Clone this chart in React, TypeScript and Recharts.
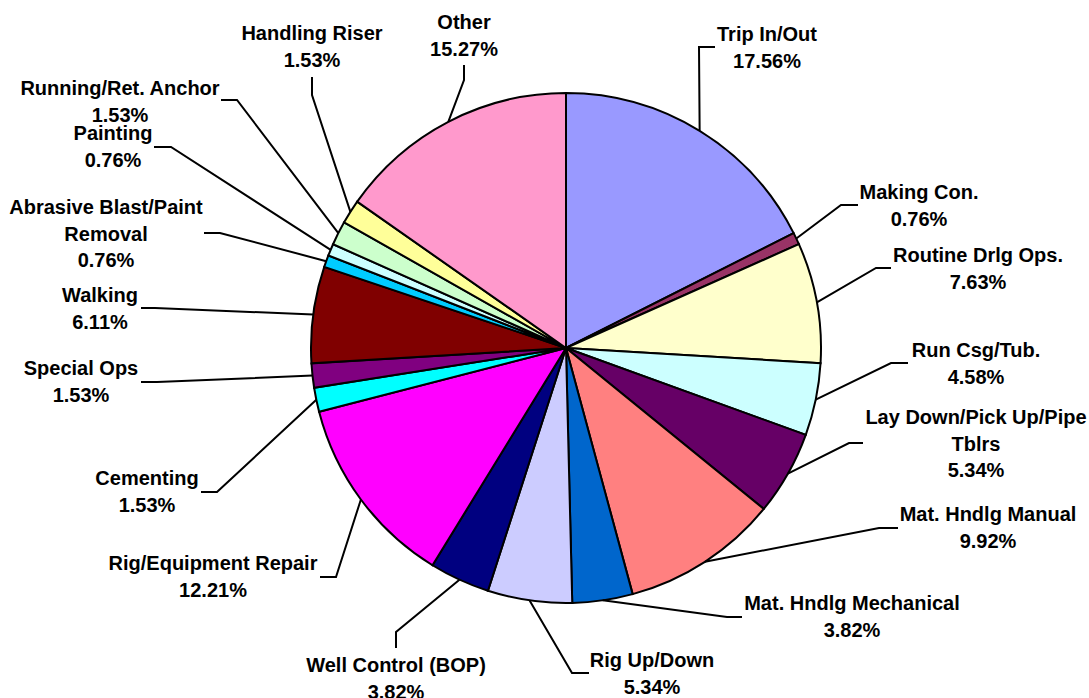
import { PieChart, Pie, Cell } from "recharts";

const CATEGORIES = [
  "Trip In/Out",
  "Making Con.",
  "Routine Drlg Ops.",
  "Run Csg/Tub.",
  "Lay Down/Pick Up/Pipe Tblrs",
  "Mat. Hndlg Manual",
  "Mat. Hndlg Mechanical",
  "Rig Up/Down",
  "Well Control (BOP)",
  "Rig/Equipment Repair",
  "Cementing",
  "Special Ops",
  "Walking",
  "Abrasive Blast/Paint Removal",
  "Painting",
  "Running/Ret. Anchor",
  "Handling Riser",
  "Other",
];

const PERCENTS = [
  17.56, 0.76, 7.63, 4.58, 5.34, 9.92, 3.82, 5.34, 3.82, 12.21, 1.53, 1.53, 6.11, 0.76, 0.76, 1.53, 1.53, 15.27,
];

const COLORS = [
  "#9999FF", "#993366", "#FFFFCC", "#CCFFFF", "#660066", "#FF8080", "#0066CC", "#CCCCFF", "#000080",
  "#FF00FF", "#00FFFF", "#800080", "#800000", "#00CCFF", "#CCFFFF", "#CCFFCC", "#FFFF99", "#FF99CC",
];

// labels that wrap onto two lines
const WRAPS: Record<string, string[]> = {
  "Lay Down/Pick Up/Pipe Tblrs": ["Lay Down/Pick Up/Pipe", "Tblrs"],
  "Abrasive Blast/Paint Removal": ["Abrasive Blast/Paint", "Removal"],
};

// label placement relative to pie centre: text (tx,ty), leader elbow (ex,ey), leader end (hx,hy)
const LABEL_LAYOUT = [
  { tx: 201, ty: -314, ex: 133, ey: -301, hx: 149, hy: -301 },
  { tx: 353, ty: -156, ex: 275, ey: -143, hx: 292, hy: -143 },
  { tx: 412, ty: -93, ex: 310, ey: -80, hx: 325, hy: -80 },
  { tx: 410, ty: 2, ex: 325, ey: 15, hx: 342, hy: 15 },
  { tx: 410, ty: 69, ex: 283, ey: 95, hx: 297, hy: 95 },
  { tx: 422, ty: 166, ex: 313, ey: 180, hx: 332, hy: 180 },
  { tx: 286, ty: 255, ex: 161, ey: 269, hx: 176, hy: 269 },
  { tx: 86, ty: 312, ex: 6, ey: 325, hx: 23, hy: 325 },
  { tx: -170, ty: 317, ex: -170, ey: 284, hx: -170, hy: 300 },
  { tx: -353, ty: 215, ex: -230, ey: 229, hx: -246, hy: 229 },
  { tx: -419, ty: 130, ex: -349, ey: 144, hx: -365, hy: 144 },
  { tx: -485, ty: 20, ex: -409, ey: 34, hx: -425, hy: 34 },
  { tx: -466, ty: -53, ex: -411, ey: -40, hx: -425, hy: -40 },
  { tx: -460, ty: -141, ex: -346, ey: -115, hx: -362, hy: -115 },
  { tx: -453, ty: -215, ex: -395, ey: -201, hx: -412, hy: -201 },
  { tx: -446, ty: -260, ex: -329, ey: -248, hx: -345, hy: -248 },
  { tx: -254, ty: -315, ex: -254, ey: -253, hx: -254, hy: -271 },
  { tx: -102, ty: -326, ex: -102, ey: -268, hx: -102, hy: -283 },
];

const data = CATEGORIES.map((name, i) => ({ name, value: PERCENTS[i] }));

const RADIAN = Math.PI / 180;
const LINE_H = 26.5;

const renderLabel = (props: any) => {
  const { cx, cy, midAngle, outerRadius, index, name, value } = props;
  const l = LABEL_LAYOUT[index];
  const sx = cx + outerRadius * Math.cos(-midAngle * RADIAN);
  const sy = cy + outerRadius * Math.sin(-midAngle * RADIAN);
  const lines = [...(WRAPS[name] || [name]), `${value.toFixed(2)}%`];
  return (
    <g>
      <polyline
        points={`${sx},${sy} ${cx + l.ex},${cy + l.ey} ${cx + l.hx},${cy + l.hy}`}
        fill="none"
        stroke="#000"
        strokeWidth={2}
      />
      <text
        x={cx + l.tx}
        y={cy + l.ty}
        textAnchor="middle"
        fill="#000"
        style={{ fontFamily: "'Liberation Sans', Arial, sans-serif", fontSize: 20, fontWeight: "bold" }}
      >
        {lines.map((t, i) => (
          <tspan key={i} x={cx + l.tx} y={cy + l.ty + i * LINE_H} dominantBaseline="central">
            {t}
          </tspan>
        ))}
      </text>
    </g>
  );
};

export default function App() {
  return (
    <div style={{ position: "absolute", left: 0, top: 0, width: 1089, height: 698, background: "#fff" }}>
      <PieChart width={1089} height={698} margin={{ top: 0, right: 0, bottom: 0, left: 0 }}>
        <Pie
          data={data}
          dataKey="value"
          nameKey="name"
          cx={566}
          cy={348}
          outerRadius={255}
          startAngle={90}
          endAngle={-270}
          stroke="#000"
          strokeWidth={2}
          label={renderLabel}
          labelLine={false}
          isAnimationActive={false}
        >
          {data.map((entry, index) => (
            <Cell key={`cell-${index}`} fill={COLORS[index]} />
          ))}
        </Pie>
      </PieChart>
    </div>
  );
}
